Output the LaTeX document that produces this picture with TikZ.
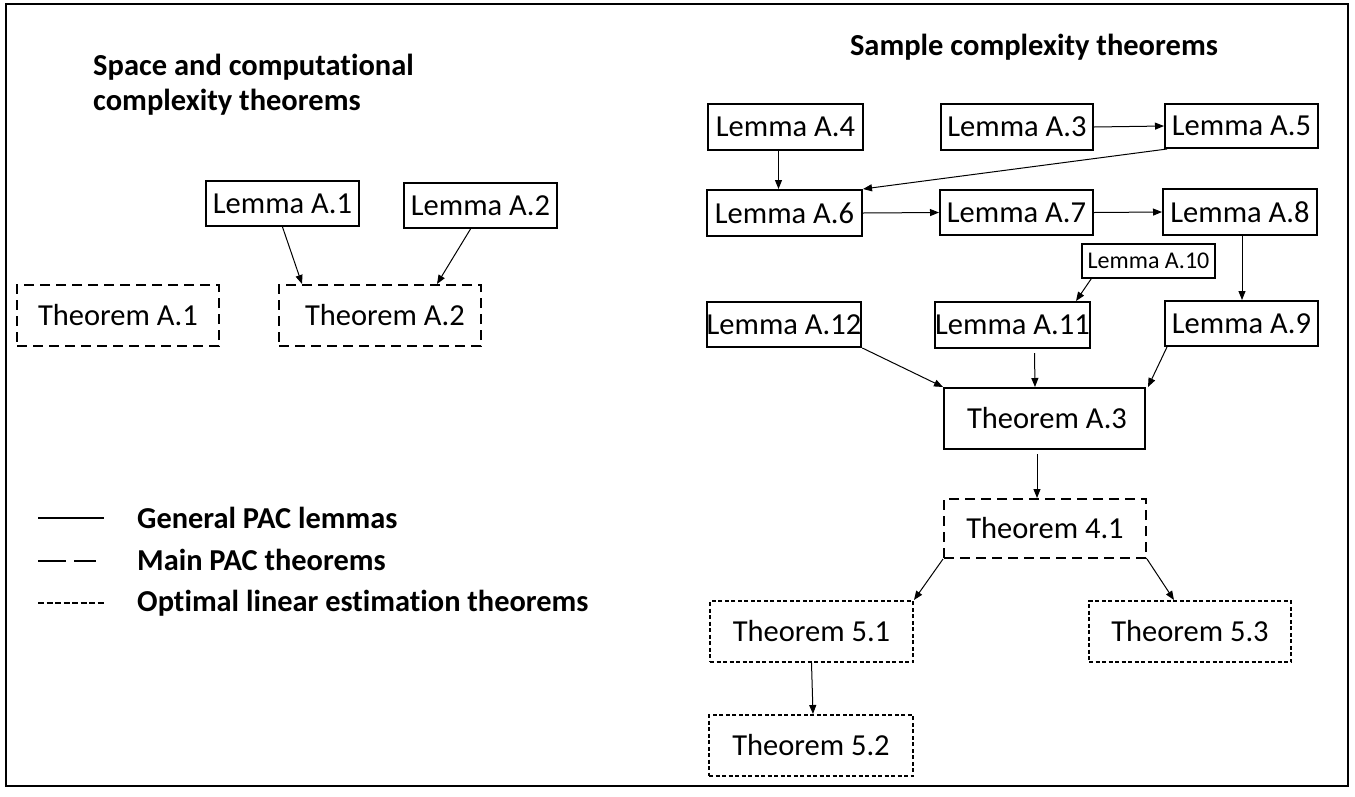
\documentclass[tikz,border=0pt]{standalone}
\usepackage{fontspec}
\setmainfont{Carlito}[Ligatures=NoCommon]
\usetikzlibrary{arrows.meta,calc}
\tikzset{
  box/.style={draw,line width=2pt,inner sep=0pt,font=\fontsize{30.5}{36}\selectfont},
  solidbox/.style={box},
  longdash/.style={box,dash pattern=on 10pt off 6pt},
  shortdash/.style={box,dash pattern=on 4pt off 2.5pt},
  arr/.style={line width=1pt,-{Triangle[length=9pt,width=7pt]}},
  ttl/.style={font=\fontsize{30.5}{35}\selectfont\bfseries,inner sep=0pt},
  leg/.style={font=\fontsize{30.4}{34}\selectfont\bfseries,inner sep=0pt,anchor=west},
}
\begin{document}
\begin{tikzpicture}[x=1pt,y=-1pt]
\useasboundingbox (0,0) rectangle (1355,796);
\draw[line width=1.5pt] (6,4) rectangle (1348,786);
% titles
\node[ttl,align=left,anchor=west] (ttlA) at (93,84.5) {Space and computational\\complexity theorems};
\node[ttl] (ttlB) at (1034,47) {Sample complexity theorems};
% left
\node[solidbox,minimum width=153pt,minimum height=45pt] (l1) at (282.5,203.5) {Lemma A.1};
\node[solidbox,minimum width=153pt,minimum height=45pt] (l2) at (480.5,205.5) {Lemma A.2};
\node[longdash,minimum width=202pt,minimum height=61pt] (t1) at (118,315.5) {Theorem A.1};
\node[longdash,minimum width=202pt,minimum height=61pt] (t2) at (380,315.5) {\hspace*{10pt}Theorem A.2};
\draw[arr] (l1.south) -- ($(t2.north west)+(24,0)$);
\draw[arr] ($(l2.south)+(-10,0)$) -- ($(t2.north east)+(-45,0)$);
% right
\node[solidbox,minimum width=155pt,minimum height=46pt] (l4) at (785.5,127) {Lemma A.4};
\node[solidbox,minimum width=152pt,minimum height=46pt] (l3) at (1017,127) {Lemma A.3};
\node[solidbox,minimum width=153pt,minimum height=44pt] (l5) at (1241.5,126) {Lemma A.5};
\node[solidbox,minimum width=155pt,minimum height=46pt] (l6) at (784.5,213) {Lemma A.6};
\node[solidbox,minimum width=153pt,minimum height=45pt] (l7) at (1016.5,212.5) {Lemma A.7};
\node[solidbox,minimum width=154pt,minimum height=46pt] (l8) at (1240,212) {Lemma A.8};
\node[box,font=\fontsize{24}{28}\selectfont,line width=1.5pt,minimum width=133pt,minimum height=34pt] (l10) at (1148.5,261) {Lemma A.10};
\node[solidbox,minimum width=154pt,minimum height=45pt] (l12) at (784,324.5) {Lemma A.12};
\node[solidbox,minimum width=155pt,minimum height=46pt] (l11) at (1012.5,325) {Lemma A.11};
\node[solidbox,minimum width=153pt,minimum height=45pt] (l9) at (1241.5,323.5) {Lemma A.9};
\node[solidbox,minimum width=201pt,minimum height=61pt] (tA3) at (1044.5,418.5) {\hspace*{5pt}Theorem A.3};
\node[longdash,minimum width=202pt,minimum height=59pt] (t41) at (1045,528.5) {Theorem 4.1};
\node[shortdash,minimum width=203pt,minimum height=61pt] (t51) at (811.5,631.5) {Theorem 5.1};
\node[shortdash,minimum width=202pt,minimum height=61pt] (t53) at (1190,631.5) {Theorem 5.3};
\node[shortdash,minimum width=204pt,minimum height=61pt] (t52) at (811,745.5) {Theorem 5.2};
\draw[arr] ($(l4.south)+(-7,0)$) -- ($(l6.north)+(-6,0)$);
\draw[arr] (l3.east) -- (l5.west);
\draw[arr] ($(l5.south west)+(3,0)$) -- (l6.north east);
\draw[arr] (l6.east) -- (l7.west);
\draw[arr] (l7.east) -- (l8.west);
\draw[arr] ($(l8.south)+(2,0)$) -- ($(l9.north)+(0.5,0)$);
\draw[arr] ($(l10.south west)+(10,0)$) -- ($(l11.north east)+(-15,0)$);
\draw[arr] (l12.south east) -- (tA3.north west);
\draw[arr] ($(l11.south)+(22,4)$) -- ($(tA3.north)+(-9.5,0)$);
\draw[arr] ($(l9.south west)+(3,0)$) -- ($(tA3.north east)+(2,0)$);
\draw[arr] ($(tA3.south)+(-7.5,4)$) -- ($(t41.north)+(-8,0)$);
\draw[arr] (t41.south west) -- (t51.north east);
\draw[arr] (t41.south east) -- ($(t53.north west)+(86,0)$);
\draw[arr] (t51.south) -- ($(t52.north)+(2,0)$);
% legend
\coordinate (g1a) at (38,518); \coordinate (g1b) at (104,518);
\coordinate (g2a) at (38,561); \coordinate (g2b) at (96,561);
\coordinate (g3a) at (38,603); \coordinate (g3b) at (104,603);
\draw[line width=2.5pt] (g1a) -- (g1b);
\draw[line width=2.5pt,dash pattern=on 28pt off 8pt] (g2a) -- (g2b);
\draw[line width=2pt,dash pattern=on 6pt off 2.5pt] (g3a) -- (g3b);
\node[leg] (n1) at (137,518) {General PAC lemmas};
\node[leg] (n2) at (137,560) {Main PAC theorems};
\node[leg] (n3) at (137,603) {Optimal linear estimation theorems};
\end{tikzpicture}
\end{document}
